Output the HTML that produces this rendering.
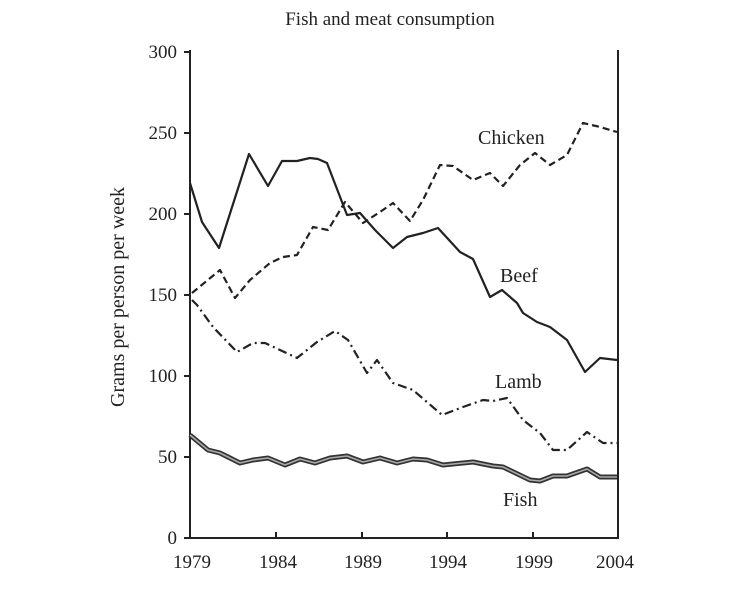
<!DOCTYPE html>
<html><head><style>html,body{margin:0;padding:0;background:#fff}svg{display:block}</style></head>
<body>
<svg width="750" height="591" viewBox="0 0 750 591" xmlns="http://www.w3.org/2000/svg" font-family="Liberation Serif, serif" fill="#222">
<text x="390" y="25" font-size="19" text-anchor="middle">Fish and meat consumption</text>
<text transform="translate(124,297) rotate(-90)" font-size="20" text-anchor="middle">Grams per person per week</text>
<g stroke="#222" stroke-width="2" fill="none">
<line x1="190" y1="50" x2="190" y2="539"/>
<line x1="618" y1="50" x2="618" y2="539"/>
<line x1="190" y1="538" x2="618" y2="538"/>
<line x1="184" y1="52" x2="190" y2="52"/><line x1="184" y1="133" x2="190" y2="133"/><line x1="184" y1="214" x2="190" y2="214"/><line x1="184" y1="295" x2="190" y2="295"/><line x1="184" y1="376" x2="190" y2="376"/><line x1="184" y1="457" x2="190" y2="457"/><line x1="184" y1="538" x2="190" y2="538"/>
<line x1="276" y1="532" x2="276" y2="538"/><line x1="362" y1="532" x2="362" y2="538"/><line x1="447" y1="532" x2="447" y2="538"/><line x1="533" y1="532" x2="533" y2="538"/>
</g>
<g font-size="19" text-anchor="end">
<text x="177" y="58">300</text><text x="177" y="139">250</text><text x="177" y="220">200</text><text x="177" y="301">150</text><text x="177" y="382">100</text><text x="177" y="463">50</text><text x="177" y="544">0</text>
</g>
<g font-size="19" text-anchor="middle">
<text x="192" y="568">1979</text><text x="278" y="568">1984</text><text x="363" y="568">1989</text><text x="448" y="568">1994</text><text x="534" y="568">1999</text><text x="615" y="568">2004</text>
</g>
<g fill="none" stroke="#222" stroke-width="2.2" stroke-linejoin="round">
<polyline points="190,183 202,222 219,248 249,154 268,186 282,161 297,161 310,158 318,159 327,163 347,215 360,213 375,230 393,248 407,237 423,233 438,228 460,252 473,259 490,297 502,290 517,303 523,313 537,322 550,327 567,340 585,372 600,358 617,360"/>
<polyline stroke-dasharray="7,4" points="192,293 220,270 235,298 250,280 270,263 283,257 297,255 313,227 328,230 345,202 363,223 380,212 393,203 410,221 423,200 440,165 453,166 473,180 490,173 503,186 520,165 535,153 550,165 567,155 583,123 600,127 617,132"/>
<polyline stroke-dasharray="9,4,2,4" points="192,300 197,305 213,327 237,352 253,343 265,343 280,350 297,358 317,342 335,331 348,340 367,373 377,360 393,383 413,390 442,415 463,407 483,400 493,401 507,398 523,420 540,433 553,450 567,450 587,432 603,443 617,443"/>
<polyline stroke-width="5" stroke="#333" points="190,435 208,450 220,453 240,463 253,460 268,458 285,465 300,459 315,463 330,458 347,456 363,462 380,458 397,463 413,459 427,460 443,465 463,463 473,462 493,466 503,467 530,480 540,481 553,476 567,476 587,469 600,477 617,477"/>
<polyline stroke-width="1.6" stroke="#aaa" points="190,435 208,450 220,453 240,463 253,460 268,458 285,465 300,459 315,463 330,458 347,456 363,462 380,458 397,463 413,459 427,460 443,465 463,463 473,462 493,466 503,467 530,480 540,481 553,476 567,476 587,469 600,477 617,477"/>
</g>
<g font-size="20">
<text x="478" y="144">Chicken</text>
<text x="500" y="282">Beef</text>
<text x="495" y="388">Lamb</text>
<text x="503" y="506">Fish</text>
</g>
</svg>
</body></html>
